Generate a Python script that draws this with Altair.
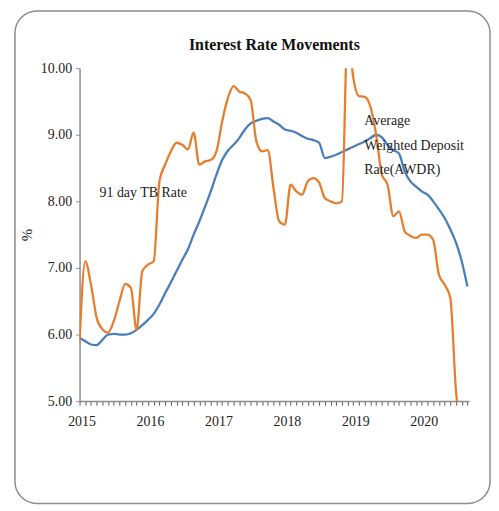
import altair as alt
import pandas as pd

years = ["2015", "2016", "2017", "2018", "2019", "2020"]
y_ticks = [5, 6, 7, 8, 9, 10]

# Average Weighted Deposit Rate (monthly, Jan 2015 - Sep 2020)
awdr = [5.95, 5.90, 5.85, 5.84, 5.92, 6.00, 6.01, 6.00, 6.00, 6.02, 6.07, 6.14,
        6.22, 6.31, 6.45, 6.62, 6.78, 6.95, 7.12, 7.28, 7.50, 7.70, 7.92, 8.15,
        8.40, 8.62, 8.76, 8.85, 8.95, 9.08, 9.17, 9.21, 9.24, 9.25, 9.20, 9.15,
        9.08, 9.06, 9.03, 8.98, 8.94, 8.92, 8.88, 8.65, 8.67, 8.70, 8.74, 8.78,
        8.82, 8.86, 8.90, 8.95, 9.00, 8.96, 8.85, 8.77, 8.72, 8.45, 8.30, 8.22,
        8.15, 8.10, 8.00, 7.88, 7.75, 7.58, 7.38, 7.10, 6.72]

# 91 day Treasury Bill rate
tb = [5.88, 7.10, 6.75, 6.25, 6.08, 6.03, 6.20, 6.50, 6.76, 6.70, 6.07, 6.95,
      7.05, 7.10, 8.30, 8.55, 8.75, 8.88, 8.85, 8.78, 9.03, 8.55, 8.60, 8.62,
      8.75, 9.20, 9.55, 9.73, 9.65, 9.62, 9.52, 8.90, 8.75, 8.77, 8.20, 7.70,
      7.65, 8.25, 8.15, 8.10, 8.30, 8.35, 8.28, 8.05, 8.00, 7.97, 8.00, 10.60,
      9.85, 9.58, 9.57, 9.42, 9.00, 8.40, 8.25, 7.78, 7.85, 7.55, 7.48, 7.45,
      7.50, 7.50, 7.42, 6.90, 6.75, 6.55, 5.15, 4.60, 4.50]

n = len(awdr)
months = list(range(n))
df = pd.DataFrame({
    "month": months + months,
    "rate": awdr + tb,
    "series": ["AWDR"] * n + ["TB"] * n,
})

FONT = "Liberation Serif"
BLUE = "#4a7ebb"
ORANGE = "#e67e2e"
GRAY = "#8c8c8c"

label_expr = "datum.value % 12 == 0 ? '' + (2015 + datum.value / 12) : ''"

x_scale = alt.Scale(domain=[0, 68.3], nice=False, zero=False)
y_scale = alt.Scale(domain=[5, 10], nice=False, zero=False)

x_axis = alt.Axis(values=months, labelExpr=label_expr, labelOverlap=False,
                  labelFlush=False, labelBound=False, grid=False, title=None,
                  tickSize=4, tickColor="#555555", domainColor=GRAY,
                  domainWidth=1.5, labelFont=FONT, labelFontSize=14,
                  labelColor="#222222", labelPadding=10, labelOffset=2)
y_axis = alt.Axis(values=y_ticks, format=".2f", grid=False, title="%",
                  tickSize=4, tickColor=GRAY, domainColor=GRAY, domainWidth=1.5,
                  labelFont=FONT, labelFontSize=14, labelColor="#222222",
                  labelPadding=4, titleFont=FONT, titleFontSize=15,
                  titleFontWeight="normal", titleColor="#222222", titlePadding=6)


def X(**kw):
    return alt.X(scale=x_scale, axis=x_axis, **kw)


def Y(**kw):
    return alt.Y(scale=y_scale, axis=y_axis, **kw)


base = alt.Chart(df)

blue_line = base.transform_filter(alt.datum.series == "AWDR").mark_line(
    color=BLUE, strokeWidth=2.3, interpolate="monotone", clip=True
).encode(x=X(field="month", type="quantitative"),
         y=Y(field="rate", type="quantitative"))

orange_line = base.transform_filter(alt.datum.series == "TB").mark_line(
    color=ORANGE, strokeWidth=2.3, interpolate="monotone", clip=True
).encode(x=X(field="month", type="quantitative"),
         y=Y(field="rate", type="quantitative"))

one = pd.DataFrame({"k": [0]})

border = alt.Chart(one).mark_rect(
    fillOpacity=0, stroke=GRAY, strokeWidth=1.5, cornerRadius=22
).encode(
    x=alt.value(-65), x2=alt.value(413),
    y=alt.value(-57.5), y2=alt.value(438),
)

title = alt.Chart(one).mark_text(
    text="Interest Rate Movements", font=FONT, fontSize=16, fontWeight="bold",
    align="center", baseline="middle", color="#111111"
).encode(x=alt.value(196), y=alt.value(-23))

tb_label = alt.Chart(one).mark_text(
    text="91 day TB Rate", font=FONT, fontSize=14, align="left",
    baseline="middle", color="#222222"
).encode(x=X(datum=3.5), y=Y(datum=8.12))

awdr_label = alt.Chart(one).mark_text(
    text=["Average", "Weighted Deposit", "Rate(AWDR)"], font=FONT, fontSize=14,
    align="left", baseline="middle", lineHeight=25, color="#222222"
).encode(x=X(datum=49.9), y=Y(datum=9.21))

chart = alt.layer(blue_line, orange_line, border, title, tb_label,
                  awdr_label).properties(
    width=392, height=335,
    padding={"left": 6, "top": 0, "right": 0, "bottom": 0},
).configure_view(stroke=None)

chart.save("out.html", embed_options={"renderer": "svg", "actions": False})
